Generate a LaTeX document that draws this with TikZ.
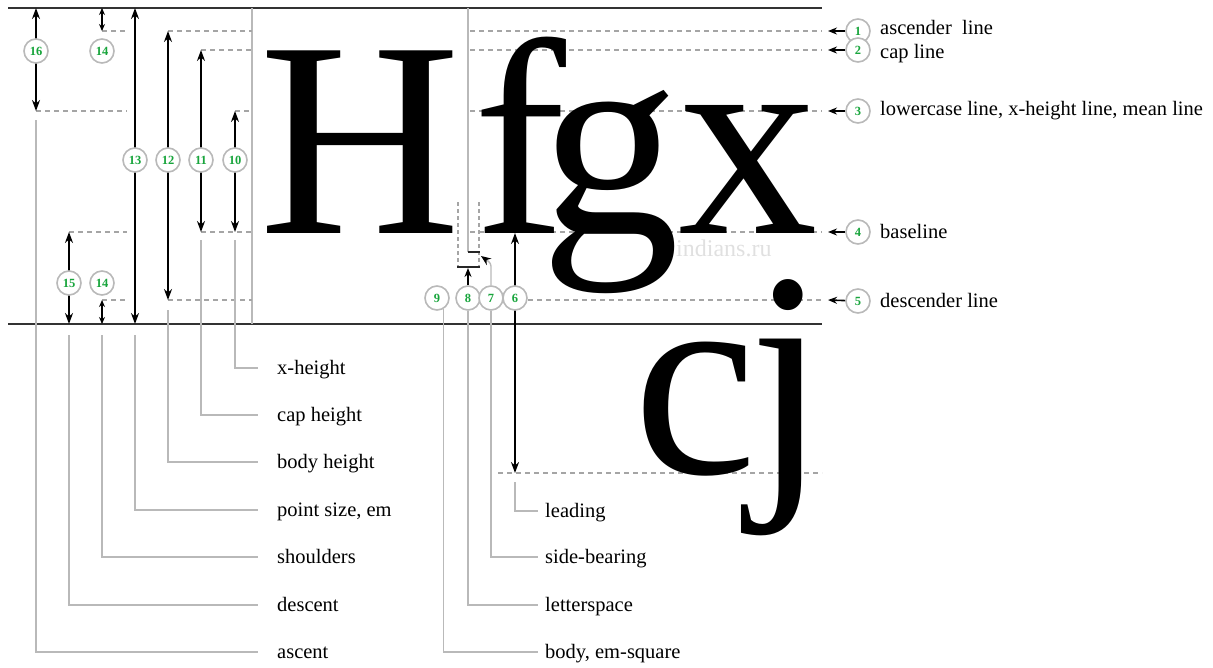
\documentclass[tikz,border=0pt]{standalone}
\usepackage{fontspec}
\setmainfont{Liberation Serif}
\usetikzlibrary{arrows.meta}
\definecolor{numgreen}{RGB}{24,165,60}
\definecolor{guidegray}{RGB}{165,165,165}
\definecolor{leadgray}{RGB}{185,185,185}

\begin{document}
\begin{tikzpicture}[x=1pt,y=-1pt,
  rule/.style={line width=2.2pt,color=black!80},
  frame/.style={leadgray,line width=1.4pt},
  guide/.style={guidegray,line width=1.3pt,dash pattern=on 5pt off 4pt},
  leader/.style={leadgray,line width=1.4pt},
  dim/.style={line width=1.8pt,{Stealth[length=11pt,width=8pt]}-{Stealth[length=11pt,width=8pt]}},
  shortdim/.style={line width=1.6pt,{Stealth[length=7pt,width=6pt]}-{Stealth[length=7pt,width=6pt]}},
  pointer/.style={line width=1.6pt,-{Stealth[length=9pt,width=7pt]}},
  bar/.style={line width=1.8pt,color=black!85},
  num/.style={circle,draw=leadgray,line width=1.6pt,fill=white,minimum size=24pt,inner sep=0pt,
    font=\fontsize{12.5}{12.5}\selectfont\bfseries,text=numgreen},
  lbl/.style={anchor=west,inner sep=0pt,text height=12pt,text depth=0pt,
    font=\fontsize{20.5}{20.5}\selectfont},
  big/.style={anchor=base,inner sep=0pt,font=\fontsize{279}{279}\selectfont}]
  \useasboundingbox (0,0) rectangle (1213,667);

  % body of the line
  \draw[rule] (8,8) -- (822,8);
  \draw[rule] (8,324) -- (822,324);
  \draw[frame] (252,8) -- (252,324);
  \draw[frame] (468,8) -- (468,252);

  % guide lines, left
  \draw[guide] (102,31) -- (127,31);
  \draw[guide] (168,31) -- (252,31);
  \draw[guide] (201,50) -- (252,50);
  \draw[guide] (36,111) -- (127,111);
  \draw[guide] (235,111) -- (252,111);
  \draw[guide] (69,232) -- (127,232);
  \draw[guide] (201,232) -- (252,232);
  \draw[guide] (102,300) -- (127,300);
  \draw[guide] (168,300) -- (252,300);
  % guide lines, right
  \coordinate (g1) at (822,31);
  \coordinate (g2) at (822,50);
  \coordinate (g3) at (822,111);
  \coordinate (g4) at (822,232);
  \coordinate (g5) at (822,300);
  \draw[guide] (470,31) -- (g1);
  \draw[guide] (470,50) -- (g2);
  \draw[guide] (470,111) -- (g3);
  \draw[guide] (470,232) -- (g4);
  \draw[guide] (528,300) -- (g5);
  \draw[guide] (498,473) -- (822,473);

  % side-bearing and letterspace marks
  \draw[guide,dash pattern=on 4pt off 3pt] (458,202) -- (458,267);
  \draw[guide,dash pattern=on 4pt off 3pt] (479,202) -- (479,267);
  \coordinate (lsL) at (457,267);
  \coordinate (lsR) at (480,267);
  \coordinate (ls) at (468,268);
  \coordinate (sbL) at (468,252);
  \coordinate (sbR) at (480,252);
  \coordinate (sbtip) at (481,256);
  \draw[bar] (lsL) -- (lsR);
  \draw[bar] (sbL) -- (sbR);

  % glyphs
  \node[text=black!12,anchor=base west,inner sep=0pt,font=\fontsize{24}{24}\selectfont] (mark) at (676,256) {indians.ru};
  \node[big] (gH) at (360,233) {H};
  \node[big] (gf) at (520,233) {f};
  \node[big] (gg) at (610,233) {g};
  \node[big] (gx) at (748,233) {x};
  \node[big] (gc) at (695,473) {c};
  \node[big,yscale=1.05] (gj) at (788,473) {j};

  % dimension arrows
  \coordinate (a16) at (36,8);   \coordinate (b16) at (36,111);
  \coordinate (a14) at (102,8);  \coordinate (b14) at (102,31);
  \coordinate (a13) at (135,8);  \coordinate (b13) at (135,324);
  \coordinate (a12) at (168,31); \coordinate (b12) at (168,300);
  \coordinate (a11) at (201,50); \coordinate (b11) at (201,232);
  \coordinate (a10) at (235,111); \coordinate (b10) at (235,232);
  \coordinate (a15) at (69,232); \coordinate (b15) at (69,324);
  \coordinate (c14) at (102,300); \coordinate (d14) at (102,324);
  \coordinate (f6) at (515,233); \coordinate (e6) at (515,473);
  \draw[dim] (a16) -- (b16);
  \draw[shortdim] (a14) -- (b14);
  \draw[dim] (a13) -- (b13);
  \draw[dim] (a12) -- (b12);
  \draw[dim] (a11) -- (b11);
  \draw[dim] (a10) -- (b10);
  \draw[dim] (a15) -- (b15);
  \draw[shortdim] (c14) -- (d14);
  \draw[dim] (f6) -- (e6);

  % numbers
  \node[num] (n16) at (36,51) {16};
  \node[num] (n14a) at (102,51) {14};
  \node[num] (n13) at (135,160) {13};
  \node[num] (n12) at (168,160) {12};
  \node[num] (n11) at (201,160) {11};
  \node[num] (n10) at (235,160) {10};
  \node[num] (n15) at (69,283) {15};
  \node[num] (n14b) at (102,283) {14};
  \node[num] (n9) at (437,298) {9};
  \node[num] (n8) at (468,298) {8};
  \node[num] (n7) at (491,298) {7};
  \node[num] (n6) at (515,298) {6};
  \node[num] (n1) at (858,31) {1};
  \node[num] (n2) at (858,50) {2};
  \node[num] (n3) at (858,111) {3};
  \node[num] (n4) at (858,232) {4};
  \node[num] (n5) at (858,301) {5};

  \draw[pointer] (n8) -- (ls);
  \draw[leader,rounded corners=3pt,-{Stealth[black,length=10pt,width=8pt]}] (n7.north) -- ++(0,-22) -- (sbtip);
  \draw[pointer] (n1) -- ([xshift=6pt]g1);
  \draw[pointer] (n2) -- ([xshift=6pt]g2);
  \draw[pointer] (n3) -- ([xshift=6pt]g3);
  \draw[pointer] (n4) -- ([xshift=6pt]g4);
  \draw[pointer] (n5) -- ([xshift=6pt]g5);

  % labels
  \node[lbl] (ascline) at (880,28) {ascender\ \ line};
  \node[lbl] (capline) at (880,52) {cap line};
  \node[lbl] (xline) at (880,109) {lowercase line, x-height line, mean line};
  \node[lbl] (baseline) at (880,232) {baseline};
  \node[lbl] (descline) at (880,301) {descender line};
  \node[lbl] (xheight) at (277,368) {x-height};
  \node[lbl] (capheight) at (277,415) {cap height};
  \node[lbl] (bodyheight) at (277,462) {body height};
  \node[lbl] (pointsize) at (277,510) {point size, em};
  \node[lbl] (shoulders) at (277,557) {shoulders};
  \node[lbl] (descent) at (277,605) {descent};
  \node[lbl] (ascent) at (277,652) {ascent};
  \node[lbl] (leading) at (545,511) {leading};
  \node[lbl] (sidebearing) at (545,557) {side-bearing};
  \node[lbl] (letterspace) at (545,605) {letterspace};
  \node[lbl] (emsquare) at (545,652) {body, em-square};

  % leaders
  \draw[leader] ([yshift=-9pt]b16) |- ([xshift=-19pt]ascent.west);
  \draw[leader] ([yshift=-11pt]b15) |- ([xshift=-19pt]descent.west);
  \draw[leader] ([yshift=-11pt]d14) |- ([xshift=-19pt]shoulders.west);
  \draw[leader] ([yshift=-11pt]b13) |- ([xshift=-19pt]pointsize.west);
  \draw[leader] ([yshift=-10pt]b12) |- ([xshift=-19pt]bodyheight.west);
  \draw[leader] ([yshift=-8pt]b11) |- ([xshift=-19pt]capheight.west);
  \draw[leader] ([yshift=-8pt]b10) |- ([xshift=-19pt]xheight.west);
  \draw[leader] ([yshift=-9pt]e6) |- ([xshift=-7pt]leading.west);
  \draw[leader] (n7.south) |- ([xshift=-7pt]sidebearing.west);
  \draw[leader] (n8.south) |- ([xshift=-7pt]letterspace.west);
  \draw[leader] ([xshift=6.5pt,yshift=2pt]n9.south) |- ([xshift=-7pt]emsquare.west);
\end{tikzpicture}
\end{document}
